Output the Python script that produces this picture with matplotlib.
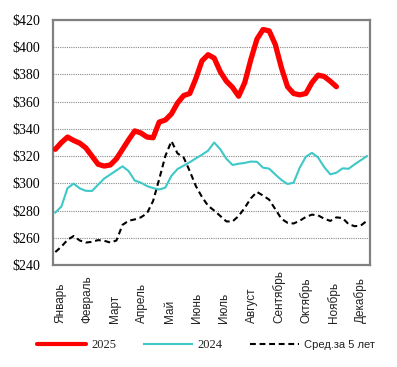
import matplotlib
matplotlib.use("Agg")
import matplotlib.pyplot as plt
from matplotlib import transforms

months = ["Январь", "Февраль", "Март", "Апрель", "Май", "Июнь", "Июль",
          "Август", "Сентябрь", "Октябрь", "Ноябрь", "Декабрь"]

y2025 = [325, 330, 334, 331.5, 329.5, 326, 320, 314, 312.7, 313.5, 318, 325,
         332, 338.5, 337, 334, 333.5, 345, 346.5, 351, 359, 364.5, 366, 377,
         390, 394.5, 392, 382, 375, 370.5, 364, 374, 391, 406, 413, 412, 402,
         385, 371, 366, 365, 366, 374, 379.5, 378.5, 375, 371]

y2024 = [278.5, 283, 296.5, 299.8, 296.3, 294.5, 294.4, 299, 303.5, 306.5,
         309.5, 312.5, 309, 302, 300.5, 298, 296.5, 295.5, 296.8, 305.5, 310.5,
         313, 315.5, 318.3, 321, 324, 330, 325, 318, 313.5, 314.4, 315, 316,
         315.8, 311.5, 310.8, 306.5, 302.5, 299.5, 300.5, 311.5, 319.5, 322.4,
         319, 312, 306.6, 307.8, 311, 310.7, 314, 317, 320]

avg5 = [249.5, 253.5, 258.5, 261.3, 258, 256.5, 257, 258.3, 257.8, 256.5, 258,
        269.5, 272.5, 273.5, 275, 278, 287, 303, 320, 331, 322, 319, 309, 298,
        290, 283.5, 280, 276, 272, 272, 276, 282, 289, 293.7, 291, 288, 281,
        274, 271, 270.5, 272.5, 275.3, 277, 276.5, 274, 272.4, 275, 274.5, 270,
        268.5, 269, 272.5]

yticks = [240, 260, 280, 300, 320, 340, 360, 380, 400, 420]
labels = ["2025", "2024", "Сред.за 5 лет"]

W, H = 397, 367
fig = plt.figure(figsize=(W / 100, H / 100), dpi=100)
ax = fig.add_axes([53 / W, 1 - 265 / H, (370 - 53) / W, (265 - 20) / H])

l3, = ax.plot(range(len(avg5)), avg5, color="black", lw=1.5,
              dashes=(2.8, 1.8), label=labels[2], zorder=3)
l2, = ax.plot(range(len(y2024)), y2024, color="#3EC8C8", lw=1.5,
              label=labels[1], zorder=4)
l1, = ax.plot(range(len(y2025)), y2025, color="#FF0000", lw=3.8,
              solid_capstyle="round", solid_joinstyle="round",
              label=labels[0], zorder=5)

ax.set_xlim(-0.38, 51.5)
ax.set_ylim(240, 420)
ax.set_yticks(yticks)
ax.set_yticklabels([f"${v}" for v in yticks], fontfamily="Liberation Serif",
                   fontsize=10)
ax.tick_params(axis="y", length=0, pad=9)
ax.set_xticks([])
ax.yaxis.grid(True, color="#8a8a8a", linestyle=(0, (1, 1)), lw=0.8)
ax.set_axisbelow(True)
for s in ax.spines.values():
    s.set_color("#808080")
    s.set_linewidth(1.6)

# month labels, bottom-aligned
trans = transforms.blended_transform_factory(ax.transData, fig.transFigure)
for k, m in enumerate(months):
    ax.text(0.82 + 4.47 * k, 1 - 323 / H, m, rotation=90, ha="center",
            va="bottom", fontsize=8.5, fontfamily="Liberation Sans",
            color="#222222", transform=trans, clip_on=False)

leg = fig.legend(handles=[l1, l2, l3], loc="center",
                 bbox_to_anchor=(206 / W, 1 - 345.5 / H), ncol=3,
                 frameon=False, fontsize=9, handlelength=3.9,
                 handletextpad=0.4, columnspacing=2.2)
for i, t in enumerate(leg.get_texts()):
    t.set_fontfamily("Liberation Serif" if i < 2 else "Liberation Sans")
    if i == 2:
        t.set_fontsize(8)
    t.set_color("#222222")
leg.get_lines()[0].set_linewidth(3.0)

fig.savefig("out.png", dpi=100)
